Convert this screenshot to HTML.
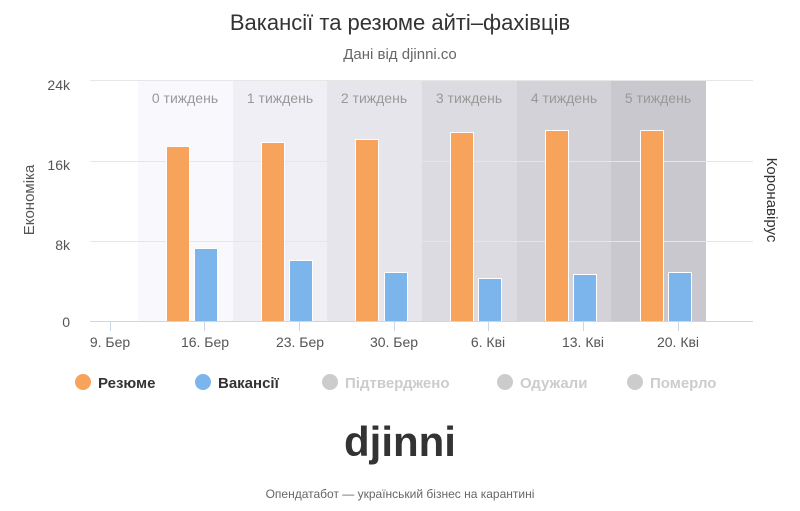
<!DOCTYPE html>
<html><head><meta charset="utf-8"><style>
body{margin:0;background:#fff;font-family:"Liberation Sans",sans-serif}
</style></head><body>
<svg width="800" height="506" xmlns="http://www.w3.org/2000/svg" font-family="Liberation Sans, sans-serif">
<rect width="800" height="506" fill="#fff"/>
<text x="400" y="30" text-anchor="middle" font-size="22" fill="#333">Вакансії та резюме айті–фахівців</text>
<text x="400" y="59" text-anchor="middle" font-size="15" fill="#666">Дані від djinni.co</text>
<g>
<rect x="138" y="80" width="95" height="241" fill="#f9f8fd"/>
<rect x="233" y="80" width="94" height="241" fill="#f0eff5"/>
<rect x="327" y="80" width="95" height="241" fill="#e6e5ec"/>
<rect x="422" y="80" width="95" height="241" fill="#dcdbe1"/>
<rect x="517" y="80" width="94" height="241" fill="#d3d2d8"/>
<rect x="611" y="80" width="95" height="241" fill="#c9c8ce"/>
</g>
<g stroke="#e6e6e6" stroke-width="1">
<line x1="90" y1="80.5" x2="753" y2="80.5"/>
<line x1="90" y1="161.5" x2="753" y2="161.5"/>
<line x1="90" y1="241.5" x2="753" y2="241.5"/>
</g>
<g font-size="14" fill="#999" text-anchor="middle">
<text x="185" y="103">0 тиждень</text><text x="280" y="103">1 тиждень</text><text x="374" y="103">2 тиждень</text>
<text x="469" y="103">3 тиждень</text><text x="564" y="103">4 тиждень</text><text x="658" y="103">5 тиждень</text>
</g>
<g font-size="14" fill="#555" text-anchor="end">
<text x="70" y="90">24k</text><text x="70" y="170">16k</text><text x="70" y="250">8k</text><text x="70" y="327">0</text>
</g>
<text transform="translate(34,200) rotate(-90)" text-anchor="middle" font-size="15" fill="#555">Економіка</text>
<text transform="translate(767,200) rotate(90)" text-anchor="middle" font-size="15" fill="#333">Коронавірус</text>
<g stroke="#fff" stroke-width="1">
<rect x="166.5" y="146.5" width="23" height="175" fill="#f7a35c"/>
<rect x="194.5" y="248.5" width="23" height="73" fill="#7cb5ec"/>
<rect x="261.5" y="142.5" width="23" height="179" fill="#f7a35c"/>
<rect x="289.5" y="260.5" width="23" height="61" fill="#7cb5ec"/>
<rect x="355.5" y="139.5" width="23" height="182" fill="#f7a35c"/>
<rect x="384.5" y="272.5" width="23" height="49" fill="#7cb5ec"/>
<rect x="450.5" y="132.5" width="23" height="189" fill="#f7a35c"/>
<rect x="478.5" y="278.5" width="23" height="43" fill="#7cb5ec"/>
<rect x="545.5" y="130.5" width="23" height="191" fill="#f7a35c"/>
<rect x="573.5" y="274.5" width="23" height="47" fill="#7cb5ec"/>
<rect x="640.5" y="130.5" width="23" height="191" fill="#f7a35c"/>
<rect x="668.5" y="272.5" width="23" height="49" fill="#7cb5ec"/>
</g>
<line x1="90" y1="321.5" x2="753" y2="321.5" stroke="#ccd6eb"/>
<g stroke="#ccd6eb">
<line x1="110.5" y1="322" x2="110.5" y2="331"/><line x1="204.5" y1="322" x2="204.5" y2="331"/>
<line x1="299.5" y1="322" x2="299.5" y2="331"/><line x1="394.5" y1="322" x2="394.5" y2="331"/>
<line x1="488.5" y1="322" x2="488.5" y2="331"/><line x1="583.5" y1="322" x2="583.5" y2="331"/>
<line x1="678.5" y1="322" x2="678.5" y2="331"/>
</g>
<g font-size="14" fill="#555" text-anchor="middle">
<text x="110" y="347">9. Бер</text><text x="205" y="347">16. Бер</text><text x="300" y="347">23. Бер</text>
<text x="394" y="347">30. Бер</text><text x="488" y="347">6. Кві</text><text x="583" y="347">13. Кві</text><text x="678" y="347">20. Кві</text>
</g>
<g font-size="15" font-weight="bold">
<circle cx="83" cy="382" r="8" fill="#f7a35c"/><text x="98" y="388" fill="#333">Резюме</text>
<circle cx="203" cy="382" r="8" fill="#7cb5ec"/><text x="218" y="388" fill="#333">Вакансії</text>
<circle cx="330" cy="382" r="8" fill="#ccc"/><text x="345" y="388" fill="#ccc">Підтверджено</text>
<circle cx="505" cy="382" r="8" fill="#ccc"/><text x="520" y="388" fill="#ccc">Одужали</text>
<circle cx="635" cy="382" r="8" fill="#ccc"/><text x="650" y="388" fill="#ccc">Померло</text>
</g>
<text x="400" y="456" text-anchor="middle" font-size="42" font-weight="bold" fill="#333">djinni</text>
<text x="400" y="498" text-anchor="middle" font-size="12" fill="#666">Опендатабот — український бізнес на карантині</text>
</svg>
</body></html>
